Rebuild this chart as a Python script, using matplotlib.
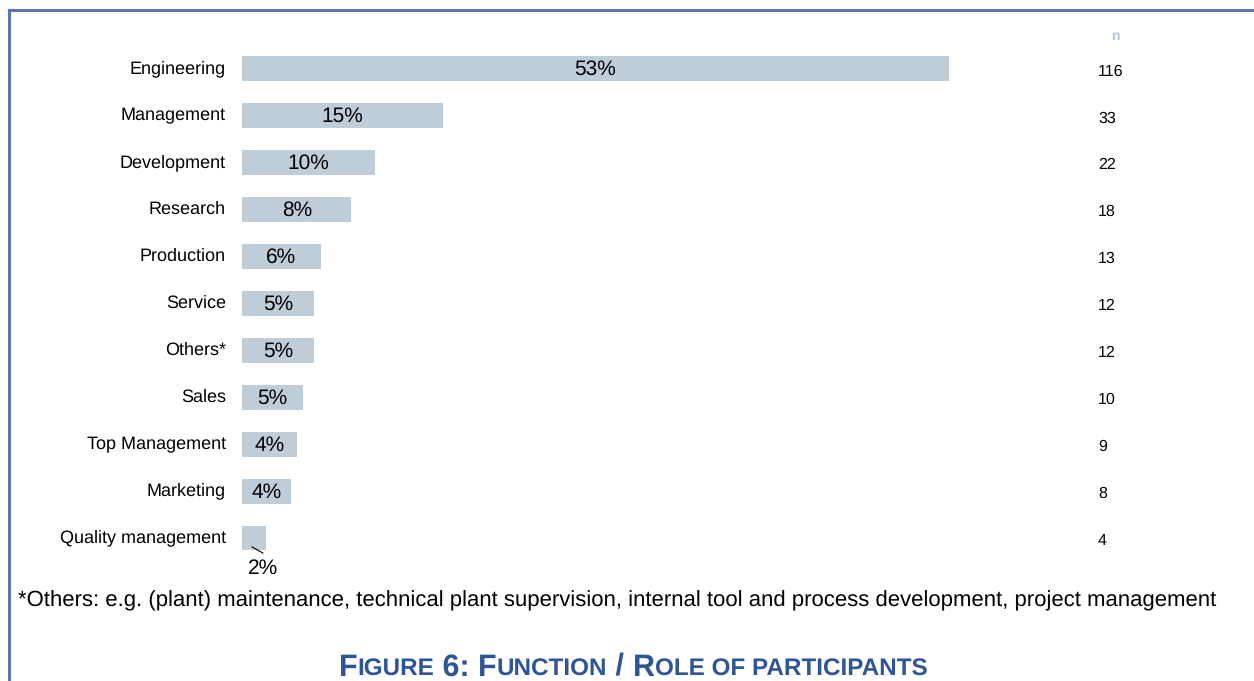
import matplotlib
matplotlib.use("Agg")
import matplotlib.pyplot as plt
from matplotlib.lines import Line2D
from matplotlib.transforms import blended_transform_factory

plt.rcParams["font.family"] = ["Liberation Sans", "DejaVu Sans"]
plt.rcParams["text.hinting"] = "no_hinting"

categories = ["Engineering", "Management", "Development", "Research", "Production",
              "Service", "Others*", "Sales", "Top Management", "Marketing",
              "Quality management"]
share_pct = [53.0, 15.1, 10.0, 8.2, 5.9, 5.4, 5.4, 4.6, 4.1, 3.7, 1.8]
n_counts = [116, 33, 22, 18, 13, 12, 12, 10, 9, 8, 4]
footnote = ("*Others: e.g. (plant) maintenance, technical plant supervision, "
            "internal tool and process development, project management")
caption_parts = [("F", 1), ("IGURE", 0), (" 6: ", 1), ("F", 1), ("UNCTION", 0),
                 (" / ", 1), ("R", 1), ("OLE OF PARTICIPANTS", 0)]

W, H, DPI = 1254, 681, 100
fig = plt.figure(figsize=(W / DPI, H / DPI), dpi=DPI)

bar_color = "#BFCDD9"
frame_color = "#5C73B6"
caption_color = "#2F5597"

# plotting area
ax = fig.add_axes([242 / W, 1 - 561.5 / H, 818 / W, 516.5 / H])
ax.set_xlim(0, 818 / 13.34)
ax.set_ylim(len(categories) - 0.5, -0.5)
ax.axis("off")

ypos = list(range(len(categories)))
ax.barh(ypos, share_pct, height=0.53, color=bar_color, edgecolor="none")

for i, (cat, v) in enumerate(zip(categories, share_pct)):
    ax.text(-1.2, i, cat, ha="right", va="center", fontsize=13, color="#000000")
    label = f"{v:.0f}%"
    if v < 3:
        # small bar: label below with a short leader line
        ax.plot([v * 0.42, v * 0.87], [i + 0.19, i + 0.32], color="black", lw=0.8)
        ax.text(v * 0.87, i + 0.64, label, ha="center", va="center", fontsize=15)
    else:
        ax.text(v / 2, i + 0.02, label, ha="center", va="center", fontsize=15)

# n column
tr = blended_transform_factory(fig.transFigure, ax.transData)
for i, n in enumerate(n_counts):
    ax.text(1098 / W, i + 0.06, str(n), transform=tr, ha="left", va="center",
            fontsize=11.5)
fig.text(1115 / W, 1 - 36 / H, "n", ha="center", va="center", fontsize=10,
         fontweight="bold", color="#B4C4D4")

# footnote
fig.text(18 / W, 1 - 600.5 / H, footnote, ha="left", va="center", fontsize=15.95)

# caption in small caps
renderer = fig.canvas.get_renderer()
big, small = 22, 17.5
pieces = []
total = 0.0
for txt, is_big in caption_parts:
    t = fig.text(0, 0, txt, fontsize=big if is_big else small, fontweight="bold",
                 color=caption_color, ha="left", va="baseline",
                 family=["Liberation Sans Narrow", "Liberation Sans"])
    w = t.get_window_extent(renderer).width
    pieces.append((t, w))
    total += w
x = 633 - total / 2
base_y = 1 - 675.5 / H
for t, w in pieces:
    t.set_position((x / W, base_y))
    x += w

# frame lines
fig.add_artist(Line2D([9 / W, 1], [1 - 10 / H, 1 - 10 / H], color=frame_color,
                      lw=2.2, transform=fig.transFigure))
fig.add_artist(Line2D([9 / W, 9 / W], [0, 1 - 10 / H], color=frame_color,
                      lw=2.2, transform=fig.transFigure))

fig.savefig("out.png", dpi=DPI, facecolor="white")
